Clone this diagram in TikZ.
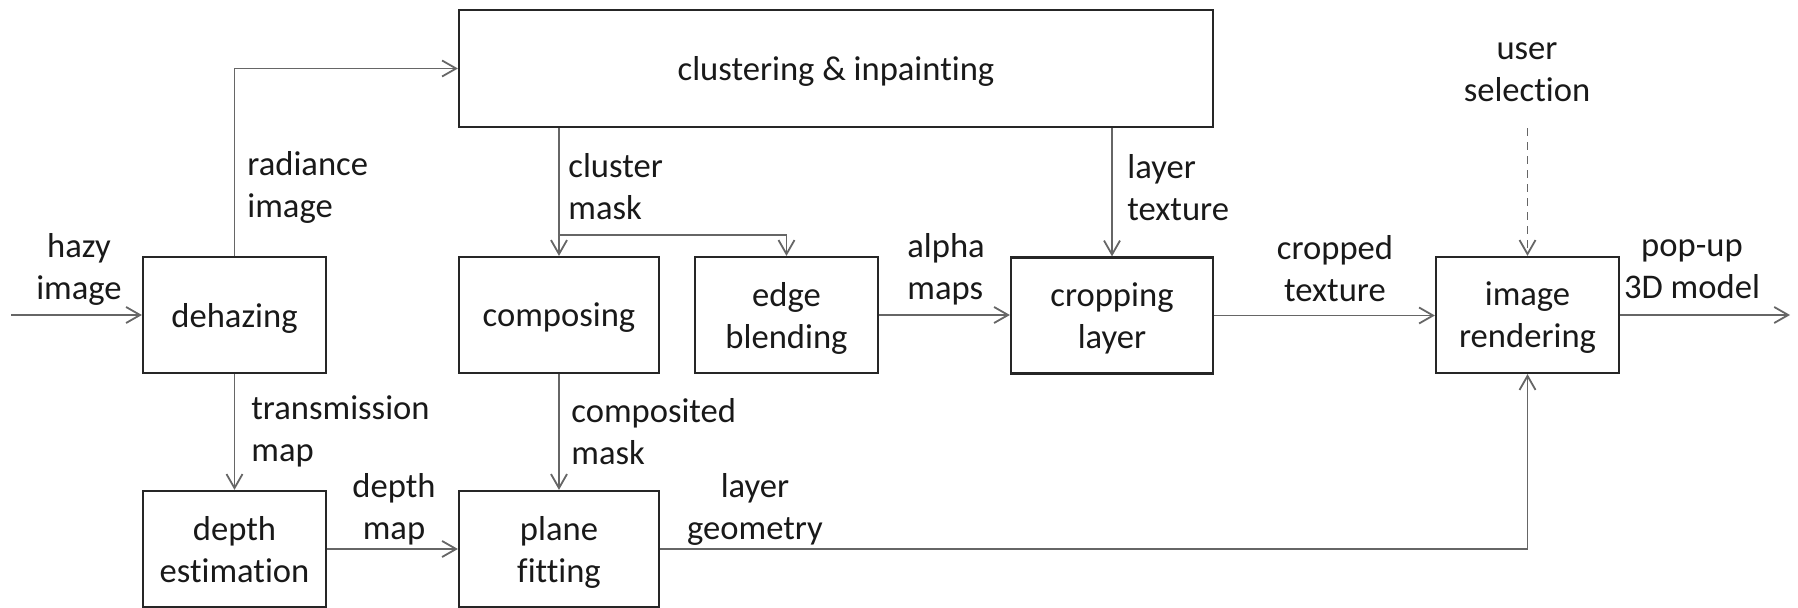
\documentclass[tikz,border=0pt]{standalone}
\usepackage{fontspec}
\setmainfont{Carlito}[Ligatures=NoCommon]
\usetikzlibrary{arrows.meta}
\begin{document}
\begin{tikzpicture}[x=0.5pt,y=-0.5pt,
  box/.style={draw=black!85,line width=1.1pt,inner sep=0pt,minimum width=91.5pt,minimum height=58pt,align=center,text=black!90,text depth=0pt,font=\fontsize{17.3}{21}\selectfont},
  lbl/.style={inner sep=0pt,text=black!90,font=\fontsize{17.3}{21}\selectfont},
  conn/.style={draw=black!60,line width=0.9pt,-{Straight Barb[length=7pt,width=8pt]}}]
\useasboundingbox (0,0) rectangle (1798,608);
% boxes
\node[box,minimum width=377pt,minimum height=58.5pt] (clust) at (836,68.5) {clustering \& inpainting};
\node[box] (dehaz) at (234.5,315) {dehazing};
\node[box,minimum width=100pt] (compos) at (559,315) {composing};
\node[box] (edge) at (786.5,315) {edge\\blending};
\node[box,minimum width=101pt] (crop) at (1112,315.5) {cropping\\layer};
\node[box] (render) at (1527.5,315) {image\\rendering};
\node[box] (depth) at (234.5,549) {depth\\estimation};
\node[box,minimum width=100pt] (plane) at (559,549) {plane\\fitting};
% labels
\node[lbl,align=center] (lhazy) at (79,269) {hazy\\image};
\node[lbl,align=left,anchor=west] (lrad) at (247,187) {radiance\\image};
\node[lbl,align=left,anchor=west] (lclm) at (568,187) {cluster\\mask};
\node[lbl,align=left,anchor=west] (llt) at (1127,187.5) {layer\\texture};
\node[lbl,align=center] (lus) at (1527,72) {user\\selection};
\node[lbl,align=left,anchor=west] (lam) at (907,269) {alpha\\maps};
\node[lbl,align=center] (lct) at (1335,269) {cropped\\texture};
\node[lbl,align=center] (lpop) at (1692,269) {pop-up\\3D model};
\node[lbl,align=left,anchor=west] (ltm) at (251,431.5) {transmission\\map};
\node[lbl,align=left,anchor=west] (lcm) at (571,431.5) {composited\\mask};
\node[lbl,align=center] (ldm) at (394,509) {depth\\map};
\node[lbl,align=center] (llg) at (755,509) {layer\\geometry};
% free ends
\coordinate (in) at (11,315);
\coordinate (out) at (1790,315);
\coordinate (split) at (compos.north |- 0,235);
% connectors
\draw[conn] (in) -- (dehaz.west);
\draw[conn] (dehaz.north) |- (clust.west);
\draw[conn] (compos.north |- clust.south) -- (compos.north);
\draw[conn] (split) -| (edge.north);
\draw[conn] (crop.north |- clust.south) -- (crop.north);
\draw[conn] (edge.east) -- (edge.east -| crop.west);
\draw[conn] (crop.east) -- (crop.east -| render.west);
\draw[conn] (render.east) -- (out);
\draw[conn,dashed,dash pattern=on 4pt off 3pt] (render.north |- clust.south) -- (render.north);
\draw[conn] (dehaz.south) -- (depth.north);
\draw[conn] (compos.south) -- (plane.north);
\draw[conn] (depth.east) -- (plane.west);
\draw[conn] (plane.east) -| (render.south);
\end{tikzpicture}
\end{document}
